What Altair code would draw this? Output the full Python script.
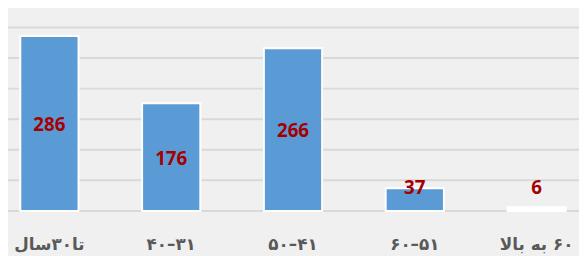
import altair as alt
import pandas as pd

RLM = "\u200f"
categories = ["تا۳۰سال", "۳۱–۴۰", "۴۱–۵۰", "۵۱–۶۰", "۶۰ به بالا"]
values = [286, 176, 266, 37, 6]
grid_values = [0, 50, 100, 150, 200, 250, 300]

df = pd.DataFrame({"group": [RLM + c for c in categories], "n": values})
grid_df = pd.DataFrame({"g": grid_values})

W = 617.5
H = 212

xscale = alt.Scale(paddingInner=0.522, paddingOuter=0.261)
yscale = alt.Scale(domain=[0, 342], nice=False)

grid = alt.Chart(grid_df).mark_rule(color="#d9d9d9", strokeWidth=2).encode(
    y=alt.Y("g:Q", scale=yscale, axis=None),
)

bars = alt.Chart(df).mark_bar(stroke="white", strokeWidth=2).encode(
    x=alt.X("group:N", sort=None, scale=xscale,
            axis=alt.Axis(title=None, labelAngle=0, labelFont="DejaVu Sans",
                          labelFontSize=17, labelFontWeight="bold",
                          labelColor="#595959", labelPadding=34,
                          labelBaseline="middle", ticks=False, domain=False, grid=False)),
    y=alt.Y("n:Q", scale=yscale, axis=None),
    color=alt.condition(alt.datum.n < 10, alt.value("white"), alt.value("#5b9bd5")),
)

labels = alt.Chart(df).transform_calculate(
    ly="max(datum.n / 2, 41)"
).mark_text(font="Noto Sans", fontWeight="bold", fontSize=19, color="#a50000",
            baseline="middle", dy=2).encode(
    x=alt.X("group:N", sort=None, scale=xscale),
    y=alt.Y("ly:Q", scale=yscale, axis=None),
    text="n:Q",
)

chart = alt.layer(grid, bars, labels).properties(
    width=W, height=H,
    padding={"left": -19.75, "top": -8, "right": -18.75, "bottom": 44},
    autosize="none",
    background="#f0f0f0",
).configure_view(stroke=None)

chart.save("out.html", embed_options={"renderer": "svg", "actions": False})
